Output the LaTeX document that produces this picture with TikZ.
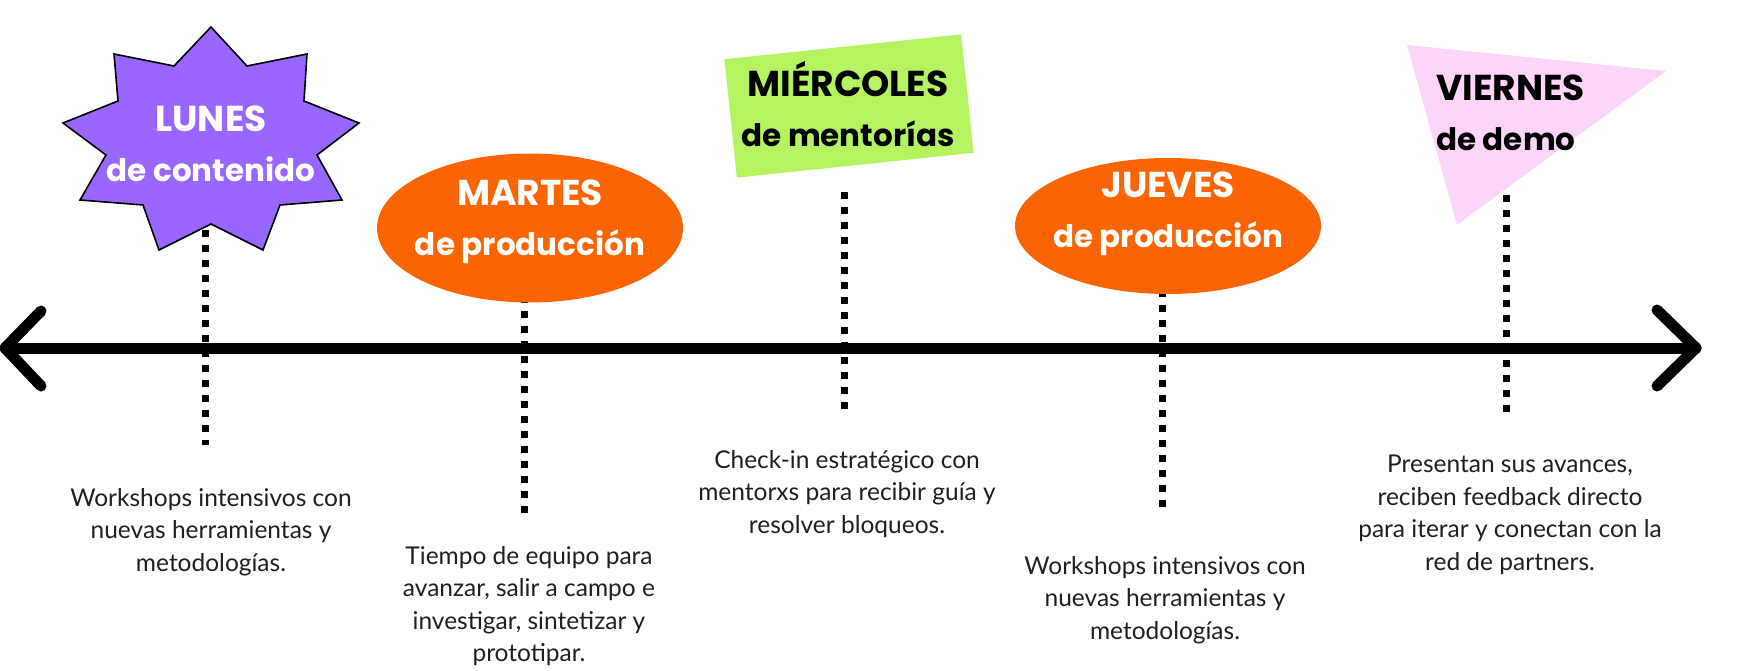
\documentclass[tikz,border=0pt]{standalone}
\usepackage{fontspec}
\setmainfont{Lato}
\newfontfamily\headfont{Poppins}
\usetikzlibrary{shapes.geometric}
\definecolor{lunesc}{HTML}{9966FF}
\definecolor{orangec}{HTML}{FA6402}
\definecolor{greenc}{HTML}{B3F460}
\definecolor{pinkc}{HTML}{FDD5FA}
\newcommand{\capline}[1]{{\fontsize{36}{50}\selectfont #1}}
\begin{document}
\begin{tikzpicture}[x=1pt,y=-1pt,
  dotline/.style={line width=7pt, dash pattern=on 7pt off 8pt},
  axisline/.style={line width=11pt, line cap=round, line join=round},
  desc/.style={align=center, inner sep=0pt, text=black!88, font=\fontsize{24.5}{32.5}\selectfont},
  head/.style={align=center, inner sep=0pt, font=\headfont\bfseries\fontsize{31}{50}\selectfont},
  blob/.style={ellipse, fill=orangec, inner sep=0pt}
]
\useasboundingbox (0,0) rectangle (1744,671);

% dotted connectors
\coordinate (d1a) at (205,215); \coordinate (d1b) at (205,445);
\coordinate (d2a) at (524,296); \coordinate (d2b) at (524,519);
\coordinate (d3a) at (844,192); \coordinate (d3b) at (844,409);
\coordinate (d4a) at (1162,290); \coordinate (d4b) at (1162,513);
\coordinate (d5a) at (1506,195); \coordinate (d5b) at (1506,414);
\draw[dotline] (d1a) -- (d1b);
\draw[dotline] (d2a) -- (d2b);
\draw[dotline] (d3a) -- (d3b);
\draw[dotline] (d4a) -- (d4b);
\draw[dotline] (d5a) -- (d5b);

% axis
\coordinate (L) at (5,348); \coordinate (R) at (1696,348);
\coordinate (La) at (41,311); \coordinate (Lb) at (41,386);
\coordinate (Ra) at (1657,310); \coordinate (Rb) at (1657,386);
\draw[axisline] (L) -- (R);
\draw[axisline] (La) -- (L) -- (Lb);
\draw[axisline] (Ra) -- (R) -- (Rb);

% LUNES star
\draw[fill=lunesc, line width=1.6pt, line join=miter]
  (211,27) -- (247,66) -- (307,54) -- (304,101) -- (359,123) -- (317,155)
  -- (342,200) -- (280,205) -- (263,250) -- (211,224) -- (159,250) -- (143,205)
  -- (80,200) -- (106,155) -- (63,123) -- (118,101) -- (114,54) -- (174,66) -- cycle;
\node[head, text=white] (lunes) at (211,144) {\capline{LUNES}\\de contenido};

% MARTES
\node[blob, minimum width=306pt, minimum height=149pt] (martes) at (530,228) {};
\node[head, text=white] (martesT) at (530,222) {\capline{MARTES}\\de producción};

% MIERCOLES
\node[fill=greenc, minimum width=238pt, minimum height=119pt, inner sep=0pt, rotate=6] (mier) at (849,106) {};
\node[head, text=black] (mierT) at (848,104) {\capline{MIÉRCOLES}\\de mentorías};

% JUEVES
\node[blob, minimum width=306pt, minimum height=136pt] (jueves) at (1168,226) {};
\node[head, text=white] (juevesT) at (1168,214) {\capline{JUEVES}\\de producción};

% VIERNES
\fill[pinkc] (1407,45) -- (1666,71) -- (1457,225) -- cycle;
\node[head, text=black, align=left, anchor=west] (viernesT) at (1436,113) {\capline{VIERNES}\\de demo};

% descriptions
\node[desc] (t1) at (211,532) {Workshops intensivos con\\nuevas herramientas y\\metodologías.};
\node[desc] (t2) at (529,606) {Tiempo de equipo para\\avanzar, salir a campo e\\investigar, sintetizar y\\prototipar.};
\node[desc] (t3) at (847,494) {Check-in estratégico con\\mentorxs para recibir guía y\\resolver bloqueos.};
\node[desc] (t4) at (1165,600) {Workshops intensivos con\\nuevas herramientas y\\metodologías.};
\node[desc] (t5) at (1510,515) {Presentan sus avances,\\reciben feedback directo\\para iterar y conectan con la\\red de partners.};
\end{tikzpicture}
\end{document}
